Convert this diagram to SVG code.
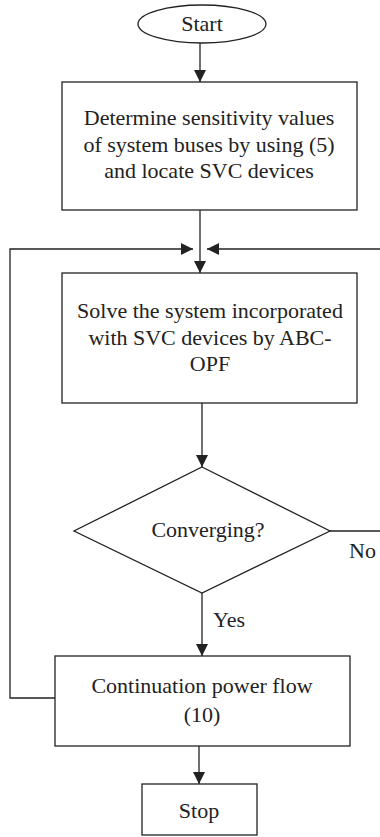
<svg xmlns="http://www.w3.org/2000/svg" width="380" height="837" viewBox="0 0 380 837">
<style>
.s{fill:#fff;stroke:#222;stroke-width:1.3}
.c{fill:none;stroke:#222;stroke-width:1.3}
.t{font-family:"Liberation Serif","Times New Roman",serif;font-size:22px;fill:#222;text-anchor:middle}
.l{font-family:"Liberation Serif","Times New Roman",serif;font-size:22px;fill:#222}
</style>
<defs>
<marker id="ah" markerWidth="12" markerHeight="12" viewBox="0 0 12 12" refX="12" refY="6" orient="auto" markerUnits="userSpaceOnUse">
<path d="M0,0 L12,6 L0,12 Z" fill="#222"/>
</marker>
</defs>
<rect width="380" height="837" fill="#fff"/>
<g id="connectors">
<line class="c" x1="200" y1="43" x2="200" y2="82" marker-end="url(#ah)"/>
<line class="c" x1="200" y1="210" x2="200" y2="273" marker-end="url(#ah)"/>
<polyline class="c" points="55,698 10,698 10,249 193,249" marker-end="url(#ah)"/>
<line class="c" x1="380" y1="249" x2="207" y2="249" marker-end="url(#ah)"/>
<line class="c" x1="202" y1="403" x2="202" y2="467" marker-end="url(#ah)"/>
<line class="c" x1="330" y1="531" x2="380" y2="531"/>
<line class="c" x1="202" y1="593" x2="202" y2="656" marker-end="url(#ah)"/>
<line class="c" x1="199" y1="746" x2="199" y2="784" marker-end="url(#ah)"/>
<text class="l" x="349" y="558">No</text>
<text class="l" x="213" y="627">Yes</text>
</g>
<g id="start">
<ellipse class="s" cx="202" cy="24" rx="64" ry="19"/>
<text class="t" x="202" y="31">Start</text>
</g>
<g id="determine">
<rect class="s" x="62" y="82" width="295" height="128"/>
<text class="t" x="209" y="125">Determine sensitivity values</text>
<text class="t" x="209" y="152">of system buses by using (5)</text>
<text class="t" x="209" y="178">and locate SVC devices</text>
</g>
<g id="solve">
<rect class="s" x="62" y="273" width="295" height="130"/>
<text class="t" x="210" y="318">Solve the system incorporated</text>
<text class="t" x="210" y="345">with SVC devices by ABC-</text>
<text class="t" x="210" y="371">OPF</text>
</g>
<g id="converging">
<polygon class="s" points="202,467 330,531 202,593 74,531"/>
<text class="t" x="208" y="537">Converging?</text>
</g>
<g id="cpf">
<rect class="s" x="55" y="656" width="295" height="90"/>
<text class="t" x="202" y="693">Continuation power flow</text>
<text class="t" x="202" y="722">(10)</text>
</g>
<g id="stop">
<rect class="s" x="142" y="784" width="115" height="51"/>
<text class="t" x="199" y="818">Stop</text>
</g>
</svg>
